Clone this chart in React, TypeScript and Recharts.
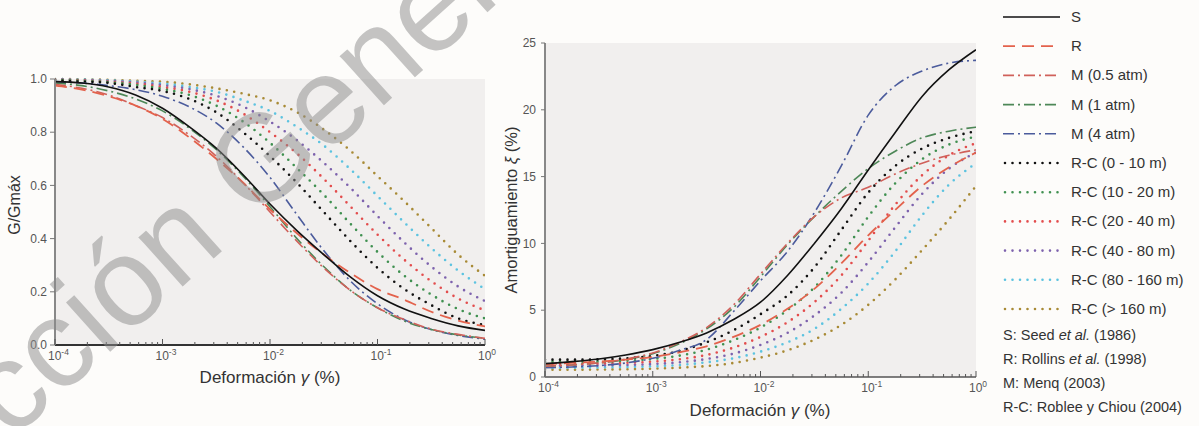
import React from "react";
import { LineChart, Line, XAxis, YAxis, CartesianGrid } from "recharts";

const FONT = "'Liberation Sans', Arial, sans-serif";

// strain, % (quarter decades from 1e-4 to 1)
const strain = [
  0.0001, 0.000178, 0.000316, 0.000562, 0.001, 0.00178, 0.00316, 0.00562, 0.01,
  0.0178, 0.0316, 0.0562, 0.1, 0.178, 0.316, 0.562, 1,
];

// G/Gmax
const gS = [0.99, 0.985, 0.97, 0.94, 0.89, 0.82, 0.74, 0.64, 0.53, 0.43, 0.34, 0.255, 0.185, 0.135, 0.1, 0.072, 0.055];
const gR = [0.975, 0.96, 0.935, 0.9, 0.85, 0.78, 0.7, 0.61, 0.51, 0.42, 0.34, 0.27, 0.21, 0.17, 0.125, 0.092, 0.07];
const gM05 = [0.98, 0.965, 0.94, 0.9, 0.855, 0.79, 0.71, 0.61, 0.5, 0.39, 0.29, 0.205, 0.14, 0.095, 0.06, 0.04, 0.025];
const gM1 = [0.985, 0.975, 0.955, 0.925, 0.88, 0.815, 0.735, 0.635, 0.52, 0.4, 0.295, 0.205, 0.14, 0.09, 0.058, 0.038, 0.025];
const gM4 = [0.99, 0.985, 0.975, 0.96, 0.935, 0.895, 0.835, 0.745, 0.63, 0.49, 0.355, 0.24, 0.155, 0.095, 0.058, 0.036, 0.022];
const gRC0 = [0.995, 0.99, 0.985, 0.97, 0.955, 0.925, 0.875, 0.8, 0.71, 0.61, 0.5, 0.39, 0.29, 0.21, 0.15, 0.1, 0.075];
const gRC1 = [0.997, 0.993, 0.988, 0.978, 0.963, 0.94, 0.9, 0.84, 0.76, 0.665, 0.565, 0.455, 0.35, 0.26, 0.19, 0.135, 0.1];
const gRC2 = [0.998, 0.995, 0.99, 0.983, 0.97, 0.952, 0.92, 0.87, 0.8, 0.72, 0.625, 0.52, 0.415, 0.32, 0.24, 0.175, 0.13];
const gRC3 = [0.999, 0.996, 0.993, 0.987, 0.977, 0.962, 0.937, 0.897, 0.84, 0.77, 0.685, 0.59, 0.485, 0.385, 0.295, 0.22, 0.165];
const gRC4 = [1, 0.998, 0.995, 0.99, 0.983, 0.97, 0.952, 0.92, 0.88, 0.82, 0.75, 0.66, 0.56, 0.46, 0.365, 0.28, 0.21];
const gRC5 = [1, 0.999, 0.997, 0.993, 0.99, 0.98, 0.965, 0.945, 0.92, 0.875, 0.81, 0.73, 0.635, 0.54, 0.44, 0.34, 0.26];

// damping, %
const dS = [1.0, 1.15, 1.35, 1.65, 2.05, 2.6, 3.3, 4.3, 5.6, 7.6, 10.0, 12.6, 15.5, 18.3, 21.0, 23.0, 24.5];
const dR = [0.95, 1.05, 1.15, 1.3, 1.5, 1.85, 2.3, 3.0, 3.9, 5.1, 6.6, 8.5, 10.6, 12.5, 14.3, 15.7, 16.8];
const dM05 = [0.8, 0.9, 1.05, 1.35, 1.8, 2.6, 3.7, 5.4, 7.7, 10.0, 12.0, 13.4, 14.2, 15.2, 16.0, 16.6, 17.0];
const dM1 = [0.8, 0.9, 1.05, 1.3, 1.75, 2.5, 3.6, 5.2, 7.5, 9.9, 12.0, 13.9, 15.6, 16.9, 17.9, 18.4, 18.7];
const dM4 = [0.7, 0.75, 0.85, 1.05, 1.4, 2.0, 2.8, 4.9, 7.2, 9.4, 12.3, 15.8, 19.6, 21.8, 22.9, 23.5, 23.7];
const dRC0 = [1.3, 1.3, 1.32, 1.4, 1.58, 1.95, 2.6, 3.5, 4.7, 6.1, 8.2, 11.0, 13.8, 15.8, 17.1, 17.9, 18.4];
const dRC1 = [1.15, 1.15, 1.17, 1.22, 1.35, 1.6, 2.05, 2.75, 3.7, 5.0, 6.7, 9.1, 12.0, 14.5, 16.3, 17.4, 18.0];
const dRC2 = [1.0, 1.0, 1.02, 1.06, 1.15, 1.33, 1.65, 2.2, 3.0, 4.1, 5.6, 7.6, 10.2, 12.9, 15.1, 16.6, 17.5];
const dRC3 = [0.85, 0.85, 0.87, 0.9, 0.97, 1.1, 1.35, 1.75, 2.4, 3.3, 4.6, 6.3, 8.6, 11.2, 13.7, 15.6, 16.8];
const dRC4 = [0.7, 0.7, 0.72, 0.75, 0.8, 0.9, 1.1, 1.4, 1.9, 2.6, 3.6, 5.1, 7.0, 9.4, 12.1, 14.4, 16.0];
const dRC5 = [0.55, 0.55, 0.56, 0.58, 0.62, 0.7, 0.82, 1.05, 1.45, 2.0, 2.8, 3.9, 5.4, 7.3, 9.5, 11.8, 14.3];

const decades = [0.0001, 0.001, 0.01, 0.1, 1];
const minorSteps = [2, 3, 4, 5, 6, 7, 8, 9];
const gTicks = [0, 0.2, 0.4, 0.6, 0.8, 1.0];
const dTicks = [0, 5, 10, 15, 20, 25];

const citations = [
  ["S: Seed ", "et al.", " (1986)"],
  ["R: Rollins ", "et al.", " (1998)"],
  ["M: Menq (2003)", "", ""],
  ["R-C: Roblee y Chiou (2004)", "", ""],
];

const DOT = "0 7.5";
const DASHDOT = "11 4 2 4";

const SERIES = [
  { key: "RC5", name: "R-C (> 160 m)", color: "#a88a35", dash: DOT, width: 2.6, round: true },
  { key: "RC4", name: "R-C (80 - 160 m)", color: "#5cc3e0", dash: DOT, width: 2.6, round: true },
  { key: "RC3", name: "R-C (40 - 80 m)", color: "#7d62ad", dash: DOT, width: 2.6, round: true },
  { key: "RC2", name: "R-C (20 - 40 m)", color: "#e34d4d", dash: DOT, width: 2.6, round: true },
  { key: "RC1", name: "R-C (10 - 20 m)", color: "#3f9050", dash: DOT, width: 2.6, round: true },
  { key: "RC0", name: "R-C (0 - 10 m)", color: "#111111", dash: DOT, width: 2.6, round: true },
  { key: "M4", name: "M (4 atm)", color: "#4b5b9c", dash: DASHDOT, width: 1.6, round: false },
  { key: "M1", name: "M (1 atm)", color: "#4d8757", dash: DASHDOT, width: 1.6, round: false },
  { key: "M05", name: "M (0.5 atm)", color: "#d0605a", dash: DASHDOT, width: 1.6, round: false },
  { key: "R", name: "R", color: "#e3624c", dash: "12 7", width: 1.8, round: false },
  { key: "S", name: "S", color: "#111111", dash: undefined, width: 1.6, round: false },
];
const LEGEND_ORDER = ["S", "R", "M05", "M1", "M4", "RC0", "RC1", "RC2", "RC3", "RC4", "RC5"];

const gSeries: Record<string, number[]> = { S: gS, R: gR, M05: gM05, M1: gM1, M4: gM4, RC0: gRC0, RC1: gRC1, RC2: gRC2, RC3: gRC3, RC4: gRC4, RC5: gRC5 };
const dSeries: Record<string, number[]> = { S: dS, R: dR, M05: dM05, M1: dM1, M4: dM4, RC0: dRC0, RC1: dRC1, RC2: dRC2, RC3: dRC3, RC4: dRC4, RC5: dRC5 };

const buildRows = (src: Record<string, number[]>) =>
  strain.map((s, i) => {
    const row: Record<string, number> = { strain: s };
    Object.keys(src).forEach((k) => (row[k] = src[k][i]));
    return row;
  });

const gRows = buildRows(gSeries);
const dRows = buildRows(dSeries);

const xTicks: number[] = [];
decades.forEach((d, i) => {
  xTicks.push(d);
  if (i < decades.length - 1) minorSteps.forEach((m) => xTicks.push(d * m));
});

const XTick = (props: any) => {
  const { x, y, payload } = props;
  const e = Math.log10(payload.value);
  const major = Math.abs(e - Math.round(e)) < 1e-6;
  return (
    <g>
      <line x1={x} x2={x} y1={y} y2={y - (major ? 6 : 3)} stroke="#555" strokeWidth={1} />
      {major && (
        <text x={x - 7} y={y + 15} textAnchor="start" fontSize={12} fill="#555" fontFamily={FONT}>
          10
          <tspan dy={-5} fontSize={8.5}>
            {Math.round(e)}
          </tspan>
        </text>
      )}
    </g>
  );
};

const renderLines = () =>
  SERIES.map((s) => (
    <Line
      key={s.key}
      dataKey={s.key}
      name={s.name}
      type="monotone"
      stroke={s.color}
      strokeWidth={s.width}
      strokeDasharray={s.dash}
      strokeLinecap={s.round ? "round" : "butt"}
      dot={false}
      activeDot={false}
      isAnimationActive={false}
    />
  ));

function GChart() {
  return (
    <LineChart width={500} height={400} data={gRows} margin={{ top: 79, right: 15, bottom: 15, left: 0 }}>
      <CartesianGrid horizontal={false} vertical={false} fill="#f1efee" stroke="none" />
      <XAxis
        dataKey="strain"
        type="number"
        scale="log"
        domain={[0.0001, 1]}
        allowDataOverflow
        ticks={xTicks}
        interval={0}
        tick={<XTick />}
        tickLine={false}
        tickSize={0}
        tickMargin={0}
        axisLine={{ stroke: "#333", strokeWidth: 2 }}
        height={40}
      />
      <YAxis
        type="number"
        domain={[0, 1]}
        ticks={gTicks}
        interval={0}
        tickFormatter={(v: number) => v.toFixed(1)}
        tick={{ fontSize: 12, fill: "#555", fontFamily: FONT }}
        tickSize={5}
        tickMargin={3}
        tickLine={{ stroke: "#777" }}
        axisLine={{ stroke: "#888", strokeWidth: 2 }}
        width={55}
      />
      {renderLines()}
    </LineChart>
  );
}

function DChart() {
  return (
    <LineChart width={500} height={426} data={dRows} margin={{ top: 43, right: 14, bottom: 9, left: 0 }}>
      <CartesianGrid horizontal={false} vertical={false} fill="#f1efee" stroke="none" />
      <XAxis
        dataKey="strain"
        type="number"
        scale="log"
        domain={[0.0001, 1]}
        allowDataOverflow
        ticks={xTicks}
        interval={0}
        tick={<XTick />}
        tickLine={false}
        tickSize={0}
        tickMargin={0}
        axisLine={{ stroke: "#555", strokeWidth: 1.5 }}
        height={40}
      />
      <YAxis
        type="number"
        domain={[0, 25]}
        ticks={dTicks}
        interval={0}
        tick={{ fontSize: 12, fill: "#555", fontFamily: FONT }}
        tickSize={4}
        tickMargin={5}
        tickLine={{ stroke: "#777" }}
        axisLine={{ stroke: "#888", strokeWidth: 2 }}
        width={55}
      />
      {renderLines()}
    </LineChart>
  );
}

function Legend() {
  const rowY = (i: number) => 17 + i * 29.2;
  return (
    <svg width={204} height={426} style={{ position: "absolute", left: 995, top: 0 }}>
      {LEGEND_ORDER.map((k, i) => {
        const s = SERIES.find((e) => e.key === k)!;
        const y = rowY(i);
        return (
          <g key={k}>
            <line
              x1={s.round ? 10 : 8}
              x2={65}
              y1={y}
              y2={y}
              stroke={s.color}
              strokeWidth={s.width}
              strokeDasharray={s.dash}
              strokeLinecap={s.round ? "round" : "butt"}
            />
            <text x={76} y={y + 5} fontSize={15} fill="#333" fontFamily={FONT}>
              {s.name}
            </text>
          </g>
        );
      })}
      {citations.map((c, i) => (
        <text key={i} x={8} y={340 + i * 24} fontSize={14.5} fill="#333" fontFamily={FONT}>
          {c[0]}
          {c[1] && <tspan fontStyle="italic">{c[1]}</tspan>}
          {c[2]}
        </text>
      ))}
    </svg>
  );
}

function Titles() {
  return (
    <svg width={1199} height={426} style={{ position: "absolute", left: 0, top: 0, pointerEvents: "none" }}>
      <text x={270} y={383} textAnchor="middle" fontSize={17} fill="#333" fontFamily={FONT}>
        Deformación <tspan fontStyle="italic">γ</tspan> (%)
      </text>
      <text x={760} y={416} textAnchor="middle" fontSize={17} fill="#333" fontFamily={FONT}>
        Deformación <tspan fontStyle="italic">γ</tspan> (%)
      </text>
      <text x={14} y={205} transform="rotate(-90 14 205)" textAnchor="middle" dominantBaseline="central" fontSize={16} fill="#333" fontFamily={FONT}>
        G/Gmáx
      </text>
      <text x={511} y={210} transform="rotate(-90 511 210)" textAnchor="middle" dominantBaseline="central" fontSize={16.5} fill="#333" fontFamily={FONT}>
        Amortiguamiento <tspan fontStyle="italic">ξ</tspan> (%)
      </text>
      <text
        x={11}
        y={441}
        transform="rotate(-42 11 441)"
        fontSize={125}
        fill="#8c8c8c"
        opacity={0.5}
        fontFamily={FONT}
      >
        cción Generada
      </text>
    </svg>
  );
}

export default function App() {
  return (
    <div style={{ position: "absolute", left: 0, top: 0, width: 1199, height: 426, background: "#fdfcfa", overflow: "hidden" }}>
      <div style={{ position: "absolute", left: 0, top: 0 }}>
        <GChart />
      </div>
      <div style={{ position: "absolute", left: 490, top: 0 }}>
        <DChart />
      </div>
      <Legend />
      <Titles />
    </div>
  );
}
